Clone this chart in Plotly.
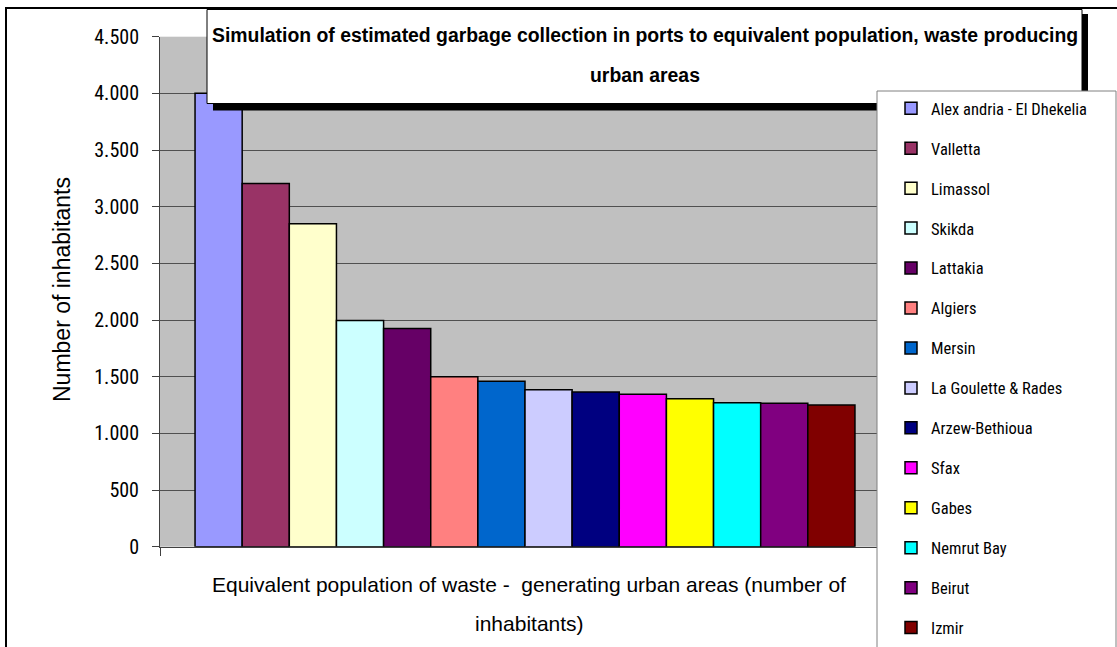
import plotly.graph_objects as go

ports = ["Alex andria - El Dhekelia", "Valletta", "Limassol", "Skikda", "Lattakia",
         "Algiers", "Mersin", "La Goulette & Rades", "Arzew-Bethioua", "Sfax",
         "Gabes", "Nemrut Bay", "Beirut", "Izmir"]
inhabitants = [4000, 3205, 2850, 1995, 1925, 1500, 1460, 1385, 1365, 1345,
               1305, 1270, 1265, 1250]
colors = ["#9999FF", "#993366", "#FFFFCC", "#CCFFFF", "#660066", "#FF8080",
          "#0066CC", "#CCCCFF", "#000080", "#FF00FF", "#FFFF00", "#00FFFF",
          "#800080", "#800000"]
y_ticks = [0, 500, 1000, 1500, 2000, 2500, 3000, 3500, 4000, 4500]

title_line1 = "Simulation of estimated garbage collection in ports to equivalent population, waste producing"
title_line2 = "urban areas"
xtitle_line1 = "Equivalent population of waste -  generating urban areas (number of"
xtitle_line2 = "inhabitants)"
ytitle = "Number of inhabitants"

NARROW = "Liberation Sans Narrow, Arial Narrow, Roboto Condensed, DejaVu Sans Condensed, sans-serif"
ARIAL = "Liberation Sans, Arial, sans-serif"

W, H = 1117, 647
def px(x):
    return x / W
def py(y):
    return 1 - y / H

fig = go.Figure()
for i, (name, val, col) in enumerate(zip(ports, inhabitants, colors)):
    fig.add_trace(go.Bar(
        x=[0], y=[val], name=name, legendgroup=f"g{i}",
        marker=dict(color=col, line=dict(color="black", width=1.5)),
        hoverinfo="name+y",
    ))

shapes = [
    # outer chart border
    dict(type="rect", xref="paper", yref="paper", x0=px(6), x1=1.02, y0=-0.02, y1=py(8),
         line=dict(color="black", width=2), fillcolor="rgba(0,0,0,0)", layer="above"),
    # title shadow
    dict(type="rect", xref="paper", yref="paper", x0=px(213), x1=px(1088), y0=py(110.5), y1=py(14),
         line=dict(width=0), fillcolor="black", layer="above"),
    # title box
    dict(type="rect", xref="paper", yref="paper", x0=px(207), x1=px(1082), y0=py(103.5), y1=py(9.5),
         line=dict(color="black", width=1), fillcolor="white", layer="above"),
    # legend box
    dict(type="rect", xref="paper", yref="paper", x0=px(877), x1=px(1116), y0=-0.05, y1=py(91),
         line=dict(color="#808080", width=1), fillcolor="white", layer="above"),
]

annotations = [
    dict(text=title_line1, xref="paper", yref="paper", x=px(645), y=py(35), showarrow=False,
         xanchor="center", yanchor="middle",
         font=dict(family=ARIAL, size=19.4, color="black", weight="bold")),
    dict(text=title_line2, xref="paper", yref="paper", x=px(645), y=py(75), showarrow=False,
         xanchor="center", yanchor="middle",
         font=dict(family=ARIAL, size=19.4, color="black", weight="bold")),
    dict(text=xtitle_line1, xref="paper", yref="paper", x=px(529), y=py(584), showarrow=False,
         xanchor="center", yanchor="middle", font=dict(family=ARIAL, size=21, color="black")),
    dict(text=xtitle_line2, xref="paper", yref="paper", x=px(529), y=py(623), showarrow=False,
         xanchor="center", yanchor="middle", font=dict(family=ARIAL, size=21, color="black")),
    dict(text=ytitle, xref="paper", yref="paper", x=px(62), y=py(290), showarrow=False,
         textangle=-90, xanchor="center", yanchor="middle",
         font=dict(family=ARIAL, size=23, color="black")),
]

fig.update_layout(
    width=W, height=H, autosize=False,
    margin=dict(l=0, r=0, t=0, b=0, pad=0),
    paper_bgcolor="white", plot_bgcolor="#C0C0C0",
    barmode="group", bargap=0.096, bargroupgap=0,
    separators=",.",
    showlegend=True,
    legend=dict(x=px(891), y=py(91), xanchor="left", yanchor="top",
                bgcolor="rgba(0,0,0,0)", borderwidth=0,
                font=dict(family=NARROW, size=16.5, color="black"),
                tracegroupgap=15.5, traceorder="grouped"),
    xaxis=dict(domain=[px(160), px(890)], range=[-0.5, 0.5], type="linear", automargin=False,
               showgrid=False, zeroline=False, showline=True, linecolor="#404040", linewidth=1,
               tickvals=[-0.5, 0.5], ticktext=["", ""], ticks="outside", ticklen=8,
               tickcolor="#404040", fixedrange=True),
    yaxis=dict(domain=[py(546.7), py(36.7)], range=[0, 4500], tickvals=y_ticks, automargin=False,
               tickformat=",d", showgrid=True, gridcolor="#505050", gridwidth=1,
               zeroline=False, showline=True, linecolor="#404040", linewidth=1,
               ticks="outside", ticklen=7, tickcolor="#404040", ticklabelstandoff=9,
               tickfont=dict(family=NARROW, size=20, color="black"), fixedrange=True),
    shapes=shapes,
    annotations=annotations,
)

fig.write_html("out.html")
